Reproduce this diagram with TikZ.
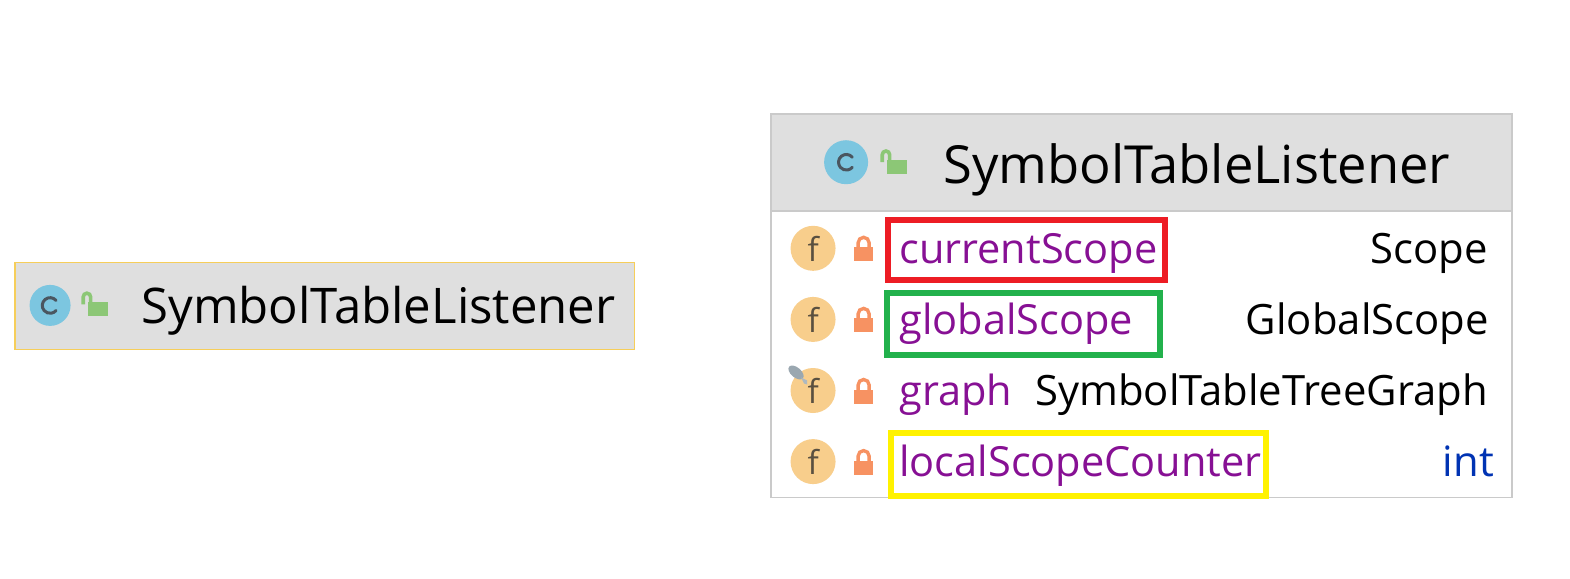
\documentclass[tikz,border=0pt]{standalone}
\usepackage{fontspec}
\setmainfont{Open Sans}
\definecolor{hdr}{HTML}{DFDFDF}
\definecolor{bord}{HTML}{CACACA}
\definecolor{hline}{HTML}{F6CE5A}
\definecolor{cblue}{HTML}{7CC6E0}
\definecolor{cdark}{HTML}{4A5660}
\definecolor{fgold}{HTML}{F8CE8C}
\definecolor{fdark}{HTML}{5A5040}
\definecolor{lgreen}{HTML}{8CC776}
\definecolor{lorange}{HTML}{F79262}
\definecolor{purp}{HTML}{871094}
\definecolor{kwblue}{HTML}{0033B3}
\definecolor{redb}{HTML}{ED1C24}
\definecolor{greenb}{HTML}{22B14C}
\definecolor{yellowb}{HTML}{FFF200}
\definecolor{pingray}{HTML}{9AA7B0}
\tikzset{
 x=1pt,y=-1pt,
 headtxt/.style={anchor=base west,inner sep=0,font=\fontsize{52.5}{56}\selectfont,text=black},
 headtxts/.style={anchor=base west,inner sep=0,font=\fontsize{49.1}{54}\selectfont,text=black},
 fieldtxt/.style={anchor=base west,inner sep=0,font=\fontsize{41.5}{46}\selectfont,text=purp},
 typetxt/.style={anchor=base east,inner sep=0,font=\fontsize{41.8}{46}\selectfont,text=black},
 cicon/.style={circle,fill=cblue,inner sep=0,minimum size=#1},
 ficon/.style={circle,fill=fgold,inner sep=0,minimum size=45pt},
 ftxt/.style={inner sep=0,text=fdark,font=\fontsize{33}{36}\selectfont},
 mark box/.style={draw=#1,line width=6pt,fill=none},
 closedlock/.pic={
  \fill[lorange] (-9.5,0) rectangle (9.5,14);
  \draw[lorange,line width=3.4pt] (-5.5,1) -- (-5.5,-4.5) arc[start angle=180,end angle=360,radius=5.5] -- (5.5,1);
 },
 openlock/.pic={
  \fill[lgreen] (-6,-2) rectangle (14,12);
  \draw[lgreen,line width=3.6pt] (-3.5,-2) -- (-3.5,-7.5) arc[start angle=360,end angle=180,radius=3.7] -- (-10.9,0);
 }
}
\begin{document}
\begin{tikzpicture}
\useasboundingbox (0,0) rectangle (1570,578);
\begin{scope}[scale=1.0013]
% left header
\fill[hdr] (15,262) rectangle (634,349);
\draw[draw=hline,line width=1.3pt] (15,262) rectangle (634,349);
\node[cicon=41pt] (lc) at (50,305) {};
\draw[cdark,line width=3pt,line cap=round] ([shift={(6,-5)}]lc.center) arc[start angle=-40,delta angle=-280,radius=7.8];
\pic at (94,304) {openlock};
\node[headtxts] (lt) at (141,323.5) {SymbolTableListener};
% right table
\fill[white] (770,114) rectangle (1510,497);
\fill[hdr] (770,114) rectangle (1510,211);
\draw[bord,line width=1.6pt] (770,114) rectangle (1510,497);
\draw[bord,line width=1.6pt] (770,211) -- (1510,211);
\node[cicon=44pt] (rc) at (845,162) {};
\draw[cdark,line width=3pt,line cap=round] ([shift={(6,-5)}]rc.center) arc[start angle=-40,delta angle=-280,radius=7.8];
\pic at (892,162) {openlock};
\node[headtxt] (rt) at (942,183) {SymbolTableListener};
% rows
\node[ficon] (f1) at (812,248) {};
\node[ficon] (f2) at (812,319) {};
\node[ficon] (f3) at (812,390) {};
\node[ficon] (f4) at (812,461) {};
\node[ftxt] (fa) at (f1.center) {f};
\node[ftxt] (fb) at (f2.center) {f};
\node[ftxt] (fc) at (f3.center) {f};
\node[ftxt] (fd) at (f4.center) {f};
\fill[pingray,rotate around={-40:(795,372)}] (795,372) ellipse (9 and 5);
\fill[pingray!80] (800,377) -- (806,380) -- (806,384) -- (803,383) -- cycle;
\pic at (862.5,247) {closedlock};
\pic at (862.5,318) {closedlock};
\pic at (862.5,389) {closedlock};
\pic at (862.5,460) {closedlock};
\node[fieldtxt] (n1) at (898,263) {currentScope};
\node[fieldtxt] (n2) at (898,334) {globalScope};
\node[fieldtxt] (n3) at (898,405) {graph};
\node[fieldtxt] (n4) at (898,476) {localScopeCounter};
\node[typetxt] (t1) at (1486,263) {Scope};
\node[typetxt] (t2) at (1487,334) {GlobalScope};
\node[typetxt] (t3) at (1486,405) {SymbolTableTreeGraph};
\node[typetxt,text=kwblue] (t4) at (1492,476) {int};
\draw[mark box=redb] (887,220) rectangle (1163,280);
\draw[mark box=greenb] (886,293) rectangle (1158,355);
\draw[mark box=yellowb] (890,432) rectangle (1264,495);
\end{scope}
\end{tikzpicture}
\end{document}
